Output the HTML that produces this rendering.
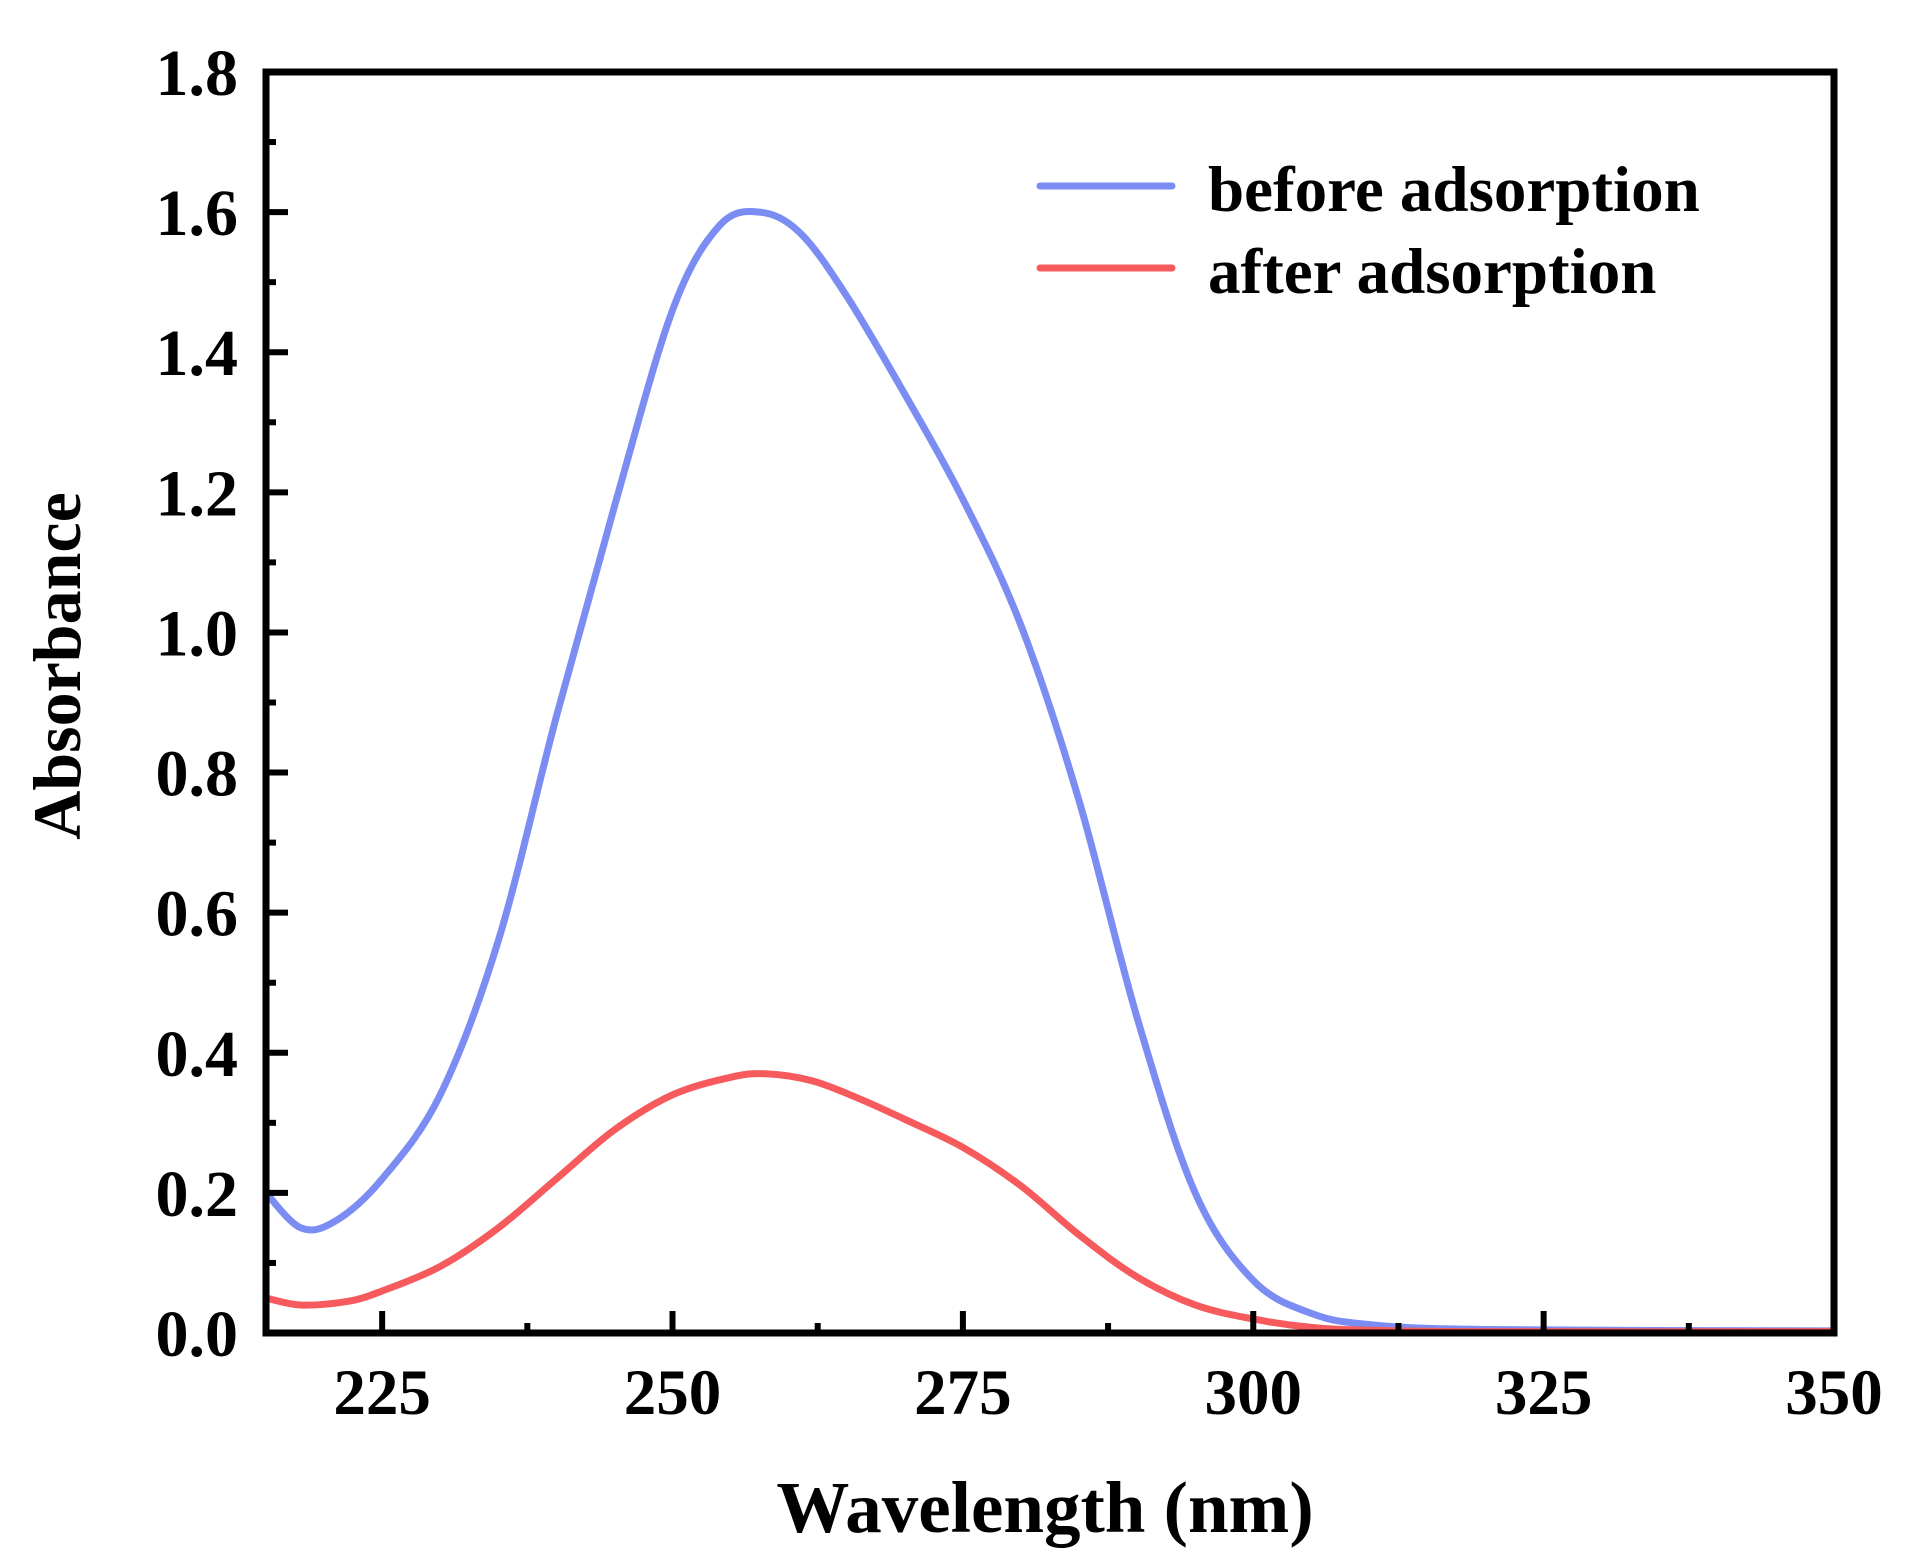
<!DOCTYPE html>
<html><head><meta charset="utf-8"><style>
html,body{margin:0;padding:0;background:#fff;}
svg{display:block;font-family:"Liberation Serif",serif;font-weight:bold;}
</style></head><body>
<svg id="chart" width="1906" height="1568" viewBox="0 0 1906 1568" xmlns="http://www.w3.org/2000/svg">
<g id="plot"></g>
<g id="axes"></g>
<text x="1045" y="1532" font-size="73" text-anchor="middle">Wavelength (nm)</text>
<text transform="translate(80,666) rotate(-90)" font-size="68" text-anchor="middle">Absorbance</text>
<g>
<line x1="1040" y1="186" x2="1172" y2="186" stroke="#7b8df3" stroke-width="7" stroke-linecap="round"/>
<text x="1208" y="211" font-size="65">before adsorption</text>
<line x1="1040" y1="268" x2="1172" y2="268" stroke="#f65a5c" stroke-width="7" stroke-linecap="round"/>
<text x="1208" y="293" font-size="65">after adsorption</text>
</g>
</svg>
<script>
const xTicks=[225,250,275,300,325,350];
const yTicks=[0.0,0.2,0.4,0.6,0.8,1.0,1.2,1.4,1.6,1.8];
const wlBefore=[215,218,221,225,230,235,240,245,250,254,257.5,261,265,270,275,280,285,290,295,300,305,310,320,350];
const absBefore=[0.20,0.15,0.16,0.22,0.34,0.56,0.88,1.18,1.46,1.58,1.60,1.57,1.48,1.34,1.19,1.01,0.76,0.45,0.20,0.075,0.028,0.012,0.005,0.003];
const wlAfter=[215,218,222,225,230,235,240,245,250,255,258,262,266,270,275,280,285,290,295,300,305,310,320,350];
const absAfter=[0.05,0.04,0.045,0.06,0.095,0.15,0.22,0.29,0.34,0.365,0.37,0.36,0.335,0.305,0.265,0.21,0.14,0.08,0.04,0.02,0.008,0.004,0.002,0.002];

const X0=266,X1=1834,Y0=1333,Y1=72,xmin=215,xmax=350,ymin=0,ymax=1.8;
const sx=v=>X0+(v-xmin)/(xmax-xmin)*(X1-X0);
const sy=v=>Y0-(v-ymin)/(ymax-ymin)*(Y0-Y1);
const NS="http://www.w3.org/2000/svg";
const plot=document.getElementById('plot'),axes=document.getElementById('axes');
function mk(tag,attrs,parent){const e=document.createElementNS(NS,tag);for(const k in attrs)e.setAttribute(k,attrs[k]);parent.appendChild(e);return e;}
function smooth(xs,ys){
  const p=xs.map((x,i)=>[sx(x),sy(ys[i])]);
  let d='M'+p[0][0]+','+p[0][1];
  for(let i=0;i<p.length-1;i++){
    const a=p[Math.max(0,i-1)],b=p[i],c=p[i+1],e=p[Math.min(p.length-1,i+2)];
    const c1=[b[0]+(c[0]-a[0])/6,b[1]+(c[1]-a[1])/6],c2=[c[0]-(e[0]-b[0])/6,c[1]-(e[1]-b[1])/6];
    d+=' C'+c1+' '+c2+' '+c;
  }
  return d;
}
const lb=mk('path',{d:smooth(wlBefore,absBefore),fill:'none',stroke:'#7b8df3','stroke-width':7,'stroke-linejoin':'round'},plot);


const la=mk('path',{d:smooth(wlAfter,absAfter),fill:'none',stroke:'#f65a5c','stroke-width':7,'stroke-linejoin':'round'},plot);



const frame=mk('rect',{x:X0,y:Y1,width:X1-X0,height:Y0-Y1,fill:'none',stroke:'#000','stroke-width':7},axes);


xTicks.forEach((v,i)=>{
  const t=mk('line',{x1:sx(v),x2:sx(v),y1:Y0,y2:Y0-22,stroke:'#000','stroke-width':6},axes);
  
  
  const m=v-12.5;
  if(m>xmin){const mt=mk('line',{x1:sx(m),x2:sx(m),y1:Y0,y2:Y0-10,stroke:'#000','stroke-width':6},axes);
  
  }
  const l=mk('text',{x:sx(v),y:1414,'font-size':65,'text-anchor':'middle'},axes);
  l.textContent=String(v);
  
  
});
yTicks.forEach((v,i)=>{
  const t=mk('line',{x1:X0,x2:X0+22,y1:sy(v),y2:sy(v),stroke:'#000','stroke-width':6},axes);
  
  
  if(i<yTicks.length-1){const mt=mk('line',{x1:X0,x2:X0+10,y1:sy(v+0.1),y2:sy(v+0.1),stroke:'#000','stroke-width':6},axes);
  
  }
  const l=mk('text',{x:238,y:sy(v)+23,'font-size':66,'text-anchor':'end'},axes);
  l.textContent=v.toFixed(1);
  
  
});
</script>
</body></html>
